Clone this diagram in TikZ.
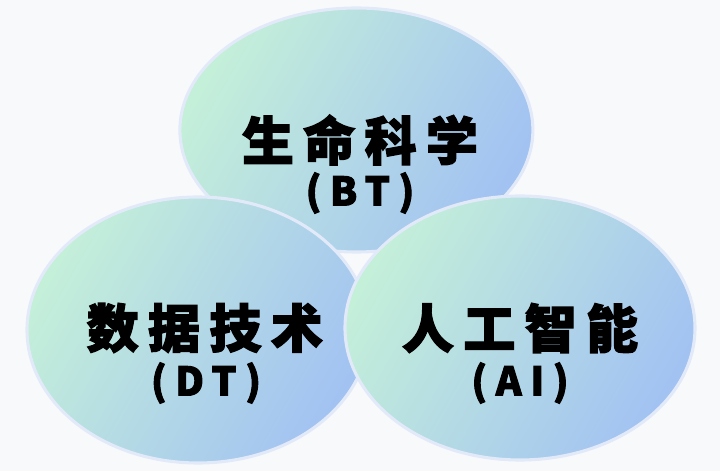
\documentclass[tikz,border=0pt]{standalone}
\usepackage{fontspec}
\usepackage{tikz}
\usetikzlibrary{shapes.geometric}
\newfontfamily\cjk[BoldFeatures={FakeBold=2.4}]{Noto Sans CJK SC}
\definecolor{bgpaper}{HTML}{F8F9FB}
\definecolor{mintleft}{HTML}{C4EFD9}
\definecolor{bluemid}{HTML}{B2DAE4}
\definecolor{blueright}{HTML}{A2C2F2}
\definecolor{rimcol}{HTML}{E2EAF9}

\begin{document}
\begin{tikzpicture}[
  field/.style ={ellipse, draw=rimcol, line width=2.2pt, inner sep=0pt,
    left color=mintleft, middle color=bluemid, right color=blueright, shading angle=60},
  title/.style ={font=\cjk\bfseries\fontsize{37}{37}\selectfont\addfontfeatures{LetterSpace=18}},
  abbrev/.style ={font=\cjk\bfseries\fontsize{28}{28}\selectfont\addfontfeatures{LetterSpace=22}}]
 \fill[bgpaper] (0,0) rectangle (18,11.775);
 \useasboundingbox (0,0) rectangle (18,11.775);

 \node[field, minimum width=8.825cm, minimum height=6.1cm] (BT)  at (8.91,8.525)  {};
 \node[field, minimum width=8.55cm, minimum height=6.65cm] (DT) at (4.95,3.525)  {};
 \node[field, minimum width=8.75cm, minimum height=6.6cm] (AI)  at (13.0,3.575)  {};

 \node[title] (BTname)  at (9.0,8.275)  {生命科学};
 \node[abbrev] (BTtag)  at (9.0,6.95)  {(BT)};
 \node[title] (DTname)  at (5.12,3.575)  {数据技术};
 \node[abbrev] (DTtag)  at (5.15,2.2)  {(DT)};
 \node[title] (AIname)  at (13.0,3.575)  {人工智能};
 \node[abbrev] (AItag)  at (13.0,2.2)  {(AI)};
\end{tikzpicture}
\end{document}
